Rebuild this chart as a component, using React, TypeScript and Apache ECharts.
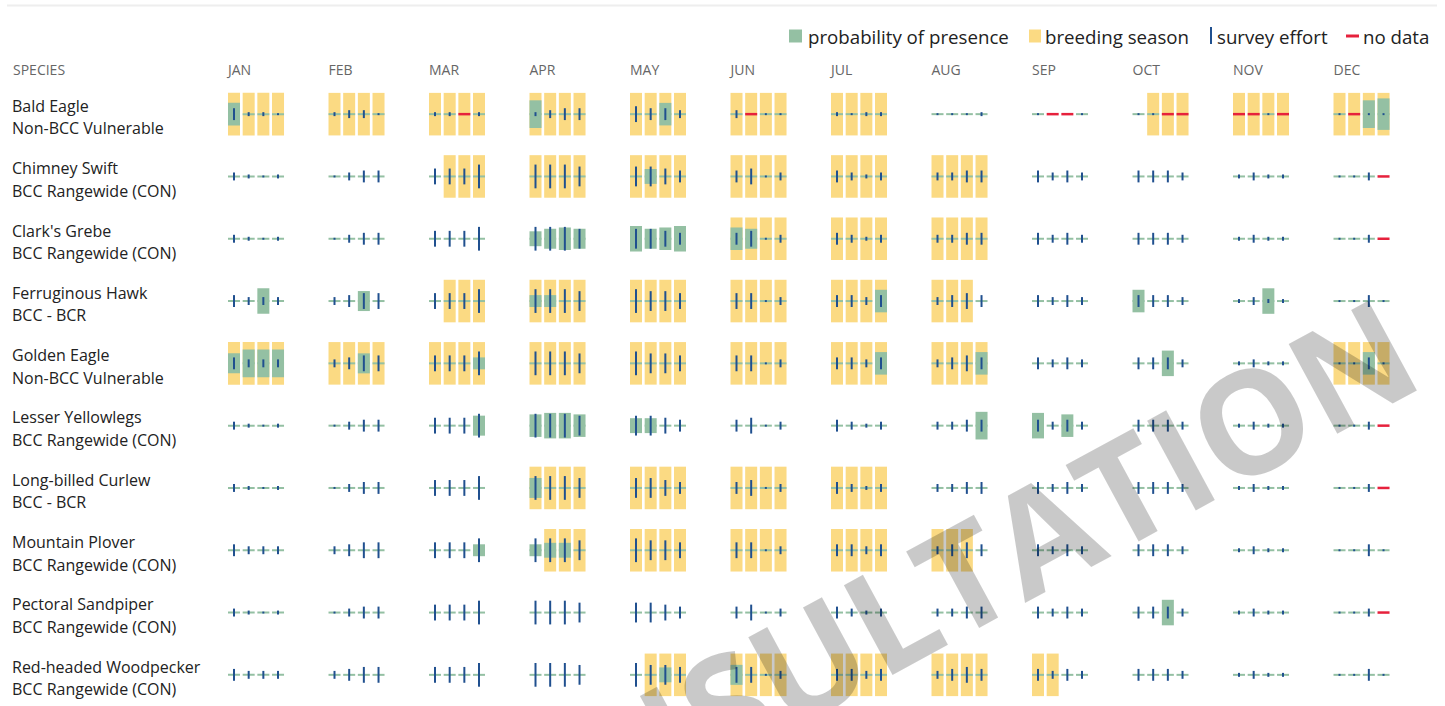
import React, { useEffect, useRef } from 'react';
import * as echarts from 'echarts';

const months = ['JAN', 'FEB', 'MAR', 'APR', 'MAY', 'JUN', 'JUL', 'AUG', 'SEP', 'OCT', 'NOV', 'DEC'];

const species = [
  'Bald Eagle',
  'Chimney Swift',
  "Clark's Grebe",
  'Ferruginous Hawk',
  'Golden Eagle',
  'Lesser Yellowlegs',
  'Long-billed Curlew',
  'Mountain Plover',
  'Pectoral Sandpiper',
  'Red-headed Woodpecker',
];

const statuses = [
  'Non-BCC Vulnerable',
  'BCC Rangewide (CON)',
  'BCC Rangewide (CON)',
  'BCC - BCR',
  'Non-BCC Vulnerable',
  'BCC Rangewide (CON)',
  'BCC - BCR',
  'BCC Rangewide (CON)',
  'BCC Rangewide (CON)',
  'BCC Rangewide (CON)',
];

// 48 weeks per species (4 per month), 1 = breeding season
const breeding: number[][] = [
  [1,1,1,1, 1,1,1,1, 1,1,1,1, 1,1,1,1, 1,1,1,1, 1,1,1,1, 1,1,1,1, 0,0,0,0, 0,0,0,0, 0,1,1,1, 1,1,1,1, 1,1,1,1],
  [0,0,0,0, 0,0,0,0, 0,1,1,1, 1,1,1,1, 1,1,1,1, 1,1,1,1, 1,1,1,1, 1,1,1,1, 0,0,0,0, 0,0,0,0, 0,0,0,0, 0,0,0,0],
  [0,0,0,0, 0,0,0,0, 0,0,0,0, 0,0,0,0, 0,0,0,0, 1,1,1,1, 1,1,1,1, 1,1,1,1, 0,0,0,0, 0,0,0,0, 0,0,0,0, 0,0,0,0],
  [0,0,0,0, 0,0,0,0, 0,1,1,1, 1,1,1,1, 1,1,1,1, 1,1,1,1, 1,1,1,1, 1,1,1,0, 0,0,0,0, 0,0,0,0, 0,0,0,0, 0,0,0,0],
  [1,1,1,1, 1,1,1,1, 1,1,1,1, 1,1,1,1, 1,1,1,1, 1,1,1,1, 1,1,1,1, 1,1,1,1, 0,0,0,0, 0,0,0,0, 0,0,0,0, 1,1,1,1],
  [0,0,0,0, 0,0,0,0, 0,0,0,0, 0,0,0,0, 0,0,0,0, 0,0,0,0, 0,0,0,0, 0,0,0,0, 0,0,0,0, 0,0,0,0, 0,0,0,0, 0,0,0,0],
  [0,0,0,0, 0,0,0,0, 0,0,0,0, 1,1,1,1, 1,1,1,1, 1,1,1,1, 1,1,1,1, 0,0,0,0, 0,0,0,0, 0,0,0,0, 0,0,0,0, 0,0,0,0],
  [0,0,0,0, 0,0,0,0, 0,0,0,0, 0,1,1,1, 1,1,1,1, 1,1,1,1, 1,1,1,1, 1,1,1,0, 0,0,0,0, 0,0,0,0, 0,0,0,0, 0,0,0,0],
  [0,0,0,0, 0,0,0,0, 0,0,0,0, 0,0,0,0, 0,0,0,0, 0,0,0,0, 0,0,0,0, 0,0,0,0, 0,0,0,0, 0,0,0,0, 0,0,0,0, 0,0,0,0],
  [0,0,0,0, 0,0,0,0, 0,0,0,0, 0,0,0,0, 0,1,1,1, 1,1,1,1, 1,1,1,1, 1,1,1,1, 1,1,0,0, 0,0,0,0, 0,0,0,0, 0,0,0,0],
];

// probability of presence, 0-10 (0 = not shown)
const probability: number[][] = [
  [5.3,0,0,0, 0,0,0,0, 0,0,0,0, 6.5,0,0,0, 0,0,5.3,0, 0,0,0,0, 0,0,0,0, 0,0,0,0, 0,0,0,0, 0,0,0,0, 0,0,0,0, 0,0,6.5,7.4],
  [0,0,0,0, 0,0,0,0, 0,0,0,0, 0,0,0,0, 0,3.5,0,0, 0,0,0,0, 0,0,0,0, 0,0,0,0, 0,0,0,0, 0,0,0,0, 0,0,0,0, 0,0,0,0],
  [0,0,0,0, 0,0,0,0, 0,0,0,0, 3.5,4.7,5.3,4.7, 6.0,4.7,5.3,6.0, 5.3,4.7,0,0, 0,0,0,0, 0,0,0,0, 0,0,0,0, 0,0,0,0, 0,0,0,0, 0,0,0,0],
  [0,0,6.0,0, 0,0,4.7,0, 0,0,0,0, 2.8,2.8,0,0, 0,0,0,0, 0,0,0,0, 0,0,0,5.3, 0,0,0,0, 0,0,0,0, 5.3,0,0,0, 0,0,6.0,0, 0,0,0,0],
  [4.7,6.5,6.5,6.5, 0,0,4.7,0, 0,0,0,2.8, 0,0,0,0, 0,0,0,0, 0,0,0,0, 0,0,0,5.3, 0,0,0,5.3, 0,0,0,0, 0,0,6.0,0, 0,0,0,0, 0,0,5.3,0],
  [0,0,0,0, 0,0,0,0, 0,0,0,4.7, 5.3,6.0,6.0,5.3, 3.5,3.5,0,0, 0,0,0,0, 0,0,0,0, 0,0,0,6.5, 6.0,0,5.3,0, 0,0,0,0, 0,0,0,0, 0,0,0,0],
  [0,0,0,0, 0,0,0,0, 0,0,0,0, 4.7,0,0,0, 0,0,0,0, 0,0,0,0, 0,0,0,0, 0,0,0,0, 0,0,0,0, 0,0,0,0, 0,0,0,0, 0,0,0,0],
  [0,0,0,0, 0,0,0,0, 0,0,0,2.8, 2.8,3.5,3.5,0, 0,0,0,0, 0,0,0,0, 0,0,0,0, 0,0,0,0, 0,0,0,0, 0,0,0,0, 0,0,0,0, 0,0,0,0],
  [0,0,0,0, 0,0,0,0, 0,0,0,0, 0,0,0,0, 0,0,0,0, 0,0,0,0, 0,0,0,0, 0,0,0,0, 0,0,0,0, 0,0,6.0,0, 0,0,0,0, 0,0,0,0],
  [0,0,0,0, 0,0,0,0, 0,0,0,0, 0,0,0,0, 0,0,3.5,0, 4.7,0,0,0, 0,0,0,0, 0,0,0,0, 0,0,0,0, 0,0,0,0, 0,0,0,0, 0,0,0,0],
];

// survey effort level per week (null = no data)
const effort: (number | null)[][] = [
  [6,2,2,1, 2,4,4,1, 2,2,null,2, 2,4,6,6, 8,6,6,4, 4,null,1,1, 2,1,2,2, 1,1,1,2, 1,null,null,1, 1,1,null,null, null,null,1,null, 1,null,1,1],
  [4,2,1,2, 1,4,6,6, 8,8,8,12, 12,12,12,10, 10,10,8,6, 6,8,1,4, 6,4,2,4, 4,4,6,6, 6,4,6,4, 6,6,6,4, 2,4,2,2, 1,1,4,null],
  [4,2,1,2, 1,4,6,6, 8,8,8,12, 12,12,12,10, 10,10,8,6, 6,8,1,4, 6,4,2,4, 4,4,6,6, 6,4,6,4, 6,6,6,4, 2,4,2,2, 1,1,4,null],
  [6,4,4,4, 4,6,8,8, 8,8,8,12, 12,12,12,10, 12,10,10,8, 8,8,1,4, 6,6,4,6, 4,6,8,6, 6,4,6,4, 6,6,6,4, 2,4,2,2, 1,1,6,1],
  [6,4,4,4, 4,6,8,8, 8,8,8,12, 12,12,12,10, 12,10,10,8, 8,8,1,4, 6,6,4,6, 4,6,8,6, 6,4,6,4, 6,6,6,4, 2,4,2,2, 1,1,6,1],
  [4,2,1,2, 1,4,6,6, 8,8,8,12, 12,12,12,10, 10,10,8,6, 6,8,1,4, 6,4,2,4, 4,4,6,6, 6,4,6,4, 6,6,6,4, 2,4,2,2, 1,1,4,null],
  [4,2,1,2, 1,4,6,6, 8,8,8,12, 12,12,12,10, 10,10,8,6, 6,8,1,4, 6,4,2,4, 4,4,6,6, 6,4,6,4, 6,6,6,4, 2,4,2,2, 1,1,4,null],
  [6,4,4,4, 4,6,8,8, 8,8,8,12, 12,12,12,10, 12,10,10,8, 8,8,1,4, 6,6,4,6, 4,6,8,6, 6,4,6,4, 6,6,6,4, 2,4,2,2, 1,1,6,1],
  [4,2,1,2, 1,4,6,6, 8,8,8,12, 12,12,12,10, 10,10,8,6, 6,8,1,4, 6,4,2,4, 4,4,6,6, 6,4,6,4, 6,6,6,4, 2,4,2,2, 1,1,4,null],
  [6,4,4,4, 4,6,8,8, 8,8,8,12, 12,12,12,10, 12,10,10,8, 8,8,1,4, 6,6,4,6, 4,6,8,6, 6,4,6,4, 6,6,6,4, 2,4,2,2, 1,1,6,1],
];

const legendItems = ['probability of presence', 'breeding season', 'survey effort', 'no data'];

const YELLOW = '#FBDA83';
const GREEN = '#94C0A3';
const BLUE = '#20508F';
const RED = '#E6213C';
const FONT = '"Open Sans", "Noto Sans", sans-serif';

// layout (in month units along x, fraction of row band along y)
const WEEK_STEP = 0.146;
const CELL_W = 0.1195;
const CELL_H = 0.683;
const EFFORT_DIV = 21.5;

export default function App() {
  const ref = useRef<HTMLDivElement>(null);

  useEffect(() => {
    const chart = echarts.init(ref.current!, null, { renderer: 'svg' });
    const data: number[][] = [];
    species.forEach((_, r) => {
      for (let i = 0; i < 48; i++) {
        const e = effort[r][i];
        data.push([Math.floor(i / 4), r, i % 4, breeding[r][i], probability[r][i], e == null ? 0 : e, e == null ? 1 : 0]);
      }
    });

    const renderItem = (params: any, api: any) => {
      const month = api.value(0);
      const row = api.value(1);
      const week = api.value(2);
      const breed = api.value(3);
      const prob = api.value(4);
      const eff = api.value(5);
      const noData = api.value(6);
      const pt = api.coord([month + week * WEEK_STEP, row]);
      const x0 = pt[0];
      const yc = pt[1];
      const cw = api.size([CELL_W, 0], [month, row])[0];
      const band = api.size([0, 1])[1];
      const H = band * CELL_H;
      const children: any[] = [];
      if (breed) {
        children.push({ type: 'rect', shape: { x: x0, y: yc - H / 2, width: cw, height: H }, style: { fill: YELLOW } });
      }
      if (noData) {
        children.push({ type: 'rect', shape: { x: x0, y: yc - 1.25, width: cw, height: 2.5 }, style: { fill: RED } });
      } else {
        children.push({ type: 'rect', shape: { x: x0, y: yc - 1, width: cw, height: 2 }, style: { fill: GREEN } });
      }
      if (prob > 0) {
        const ph = (prob / 10) * H;
        children.push({ type: 'rect', shape: { x: x0, y: yc - ph / 2, width: cw, height: ph }, style: { fill: GREEN } });
      }
      if (!noData && eff > 0) {
        const eh = (eff / EFFORT_DIV) * H;
        children.push({ type: 'rect', shape: { x: x0 + cw / 2 - 1, y: yc - eh / 2, width: 2, height: eh }, style: { fill: BLUE } });
      }
      return { type: 'group', children };
    };

    const legendY = 36;
    const legendText = (text: string, x: number) => ({
      type: 'text',
      x,
      y: legendY,
      style: { text, font: `18.7px ${FONT}`, fill: '#222', verticalAlign: 'middle', align: 'left' },
    });

    chart.setOption({
      animation: false,
      backgroundColor: '#fff',
      grid: { left: 228, top: 83, width: 1206, height: 630, containLabel: false },
      xAxis: {
        type: 'value',
        position: 'top',
        min: 0,
        max: 12,
        interval: 1,
        axisLine: { show: false },
        axisTick: { show: false },
        splitLine: { show: false },
        axisLabel: {
          formatter: (v: number) => months[v] ?? '',
          align: 'left',
          verticalAlign: 'middle',
          margin: 14,
          color: '#666',
          fontSize: 14,
          fontFamily: FONT,
        },
      },
      yAxis: {
        type: 'category',
        inverse: true,
        data: species,
        axisLine: { show: false },
        axisTick: { show: false },
        splitLine: { show: false },
        axisLabel: {
          interval: 0,
          align: 'left',
          margin: 216,
          formatter: (v: string, i: number) => `{n|${v}}\n{n|${statuses[i]}}`,
          rich: {
            n: { fontSize: 16, lineHeight: 22.5, color: '#222', fontFamily: FONT, padding: [6, 0, 0, 0] },
          },
        },
      },
      series: [
        {
          type: 'custom',
          renderItem,
          data,
          clip: false,
          encode: { x: 0, y: 1 },
          silent: true,
        },
      ],
      graphic: [
        { type: 'rect', shape: { x: 7, y: 4.5, width: 1430, height: 2 }, style: { fill: '#eeeeee' } },
        { type: 'text', x: 13, y: 69, style: { text: 'SPECIES', font: `14px ${FONT}`, fill: '#666', verticalAlign: 'middle' } },
        { type: 'rect', shape: { x: 789, y: 29.5, width: 13, height: 13 }, style: { fill: GREEN } },
        legendText(legendItems[0], 808),
        { type: 'rect', shape: { x: 1029, y: 29.5, width: 12, height: 13 }, style: { fill: YELLOW } },
        legendText(legendItems[1], 1045),
        { type: 'rect', shape: { x: 1210, y: 27, width: 2, height: 17 }, style: { fill: BLUE } },
        legendText(legendItems[2], 1217),
        { type: 'rect', shape: { x: 1346, y: 34.5, width: 13, height: 3 }, style: { fill: RED } },
        legendText(legendItems[3], 1363),
        {
          type: 'text',
          x: 905,
          y: 605,
          rotation: (28.5 * Math.PI) / 180,
          z: 100,
          silent: true,
          style: {
            text: 'CONSULTATION',
            font: `bold 143px ${FONT}`,
            fill: 'rgba(0,0,0,0.21)',
            align: 'center',
            verticalAlign: 'middle',
          },
        },
      ],
    });
    return () => chart.dispose();
  }, []);

  return <div ref={ref} style={{ position: 'fixed', left: 0, top: 0, width: 1445, height: 706 }} />;
}
